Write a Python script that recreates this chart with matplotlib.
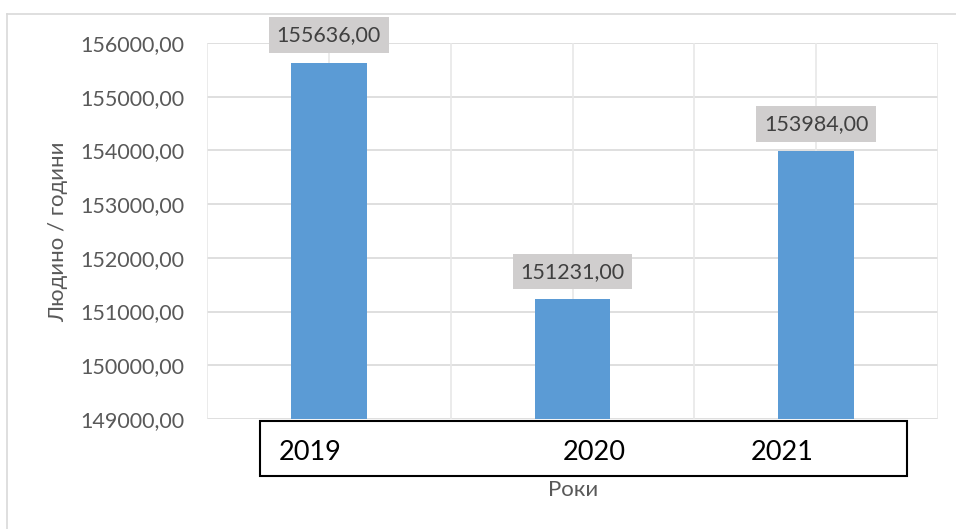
import matplotlib
matplotlib.use("Agg")
import matplotlib.pyplot as plt
from matplotlib.patches import Rectangle
from matplotlib.lines import Line2D
from matplotlib.ticker import FuncFormatter, MultipleLocator

plt.rcParams['font.family'] = ['Lato', 'DejaVu Sans']

years = ['2019', '2020', '2021']
values = [155636.00, 151231.00, 153984.00]
y_min, y_max, y_step = 149000, 156000, 1000

W, H = 956, 529
fig = plt.figure(figsize=(W / 100, H / 100), dpi=100)

def fx(px):
    return px / W

def fy(py):
    return 1 - py / H

ax = fig.add_axes([fx(207), fy(419), fx(938) - fx(207), fy(43) - fy(419)])

x = list(range(len(years)))
ax.bar(x, [v - y_min for v in values], bottom=y_min, width=0.31,
       color='#5B9BD5', zorder=3)

ax.set_xlim(-0.5, len(years) - 0.5)
ax.set_ylim(y_min, y_max)
ax.yaxis.set_major_locator(MultipleLocator(y_step))
ax.yaxis.set_major_formatter(FuncFormatter(lambda v, p: f"{v:.2f}".replace('.', ',')))

# gridlines: horizontal at each tick, vertical at category centres and borders
for yv in range(y_min, y_max + 1, y_step):
    ax.axhline(yv, color='#D9D9D9', lw=1.2, zorder=1)
for k in range(2 * len(years) + 1):
    ax.axvline(-0.5 + k * 0.5, color='#E8E8E8', lw=1.2, zorder=1)

for s in ax.spines.values():
    s.set_visible(False)
ax.tick_params(axis='y', length=0, pad=16, labelsize=15.5, labelcolor='#595959')
ax.tick_params(axis='x', length=0, labelbottom=False)
ax.set_xticks(x)

# value labels in grey boxes
for xi, v in zip(x, values):
    ax.annotate(f"{v:.2f}".replace('.', ','), (xi, v), xytext=(0, 19.8),
                textcoords='offset points', ha='center', va='center',
                fontsize=15.5, color='#404040', zorder=5,
                bbox=dict(boxstyle='square,pad=0.36', fc='#D0CECE', ec='none'))

fig.text(fx(58), fy(232), 'Людино / години', rotation=90, ha='center', va='center',
         fontsize=16, color='#595959')

# framed row of year labels under the plot
fig.patches.append(Rectangle((fx(260), fy(476)), fx(907) - fx(260), fy(421) - fy(476),
                             transform=fig.transFigure, fill=False, ec='black', lw=1.5))
for label, px in zip(years, [310, 594, 782]):
    fig.text(fx(px), fy(452), label, ha='center', va='center', fontsize=19.5, color='black')

fig.text(fx(573), fy(490), 'Роки', ha='center', va='center', fontsize=16, color='#595959')

# chart area border
fig.add_artist(Line2D([fx(7), fx(7)], [fy(14), 0], color='#D9D9D9', lw=1.2))
fig.add_artist(Line2D([fx(7), 1], [fy(14), fy(14)], color='#D9D9D9', lw=1.2))

fig.savefig('out.png', dpi=100)
